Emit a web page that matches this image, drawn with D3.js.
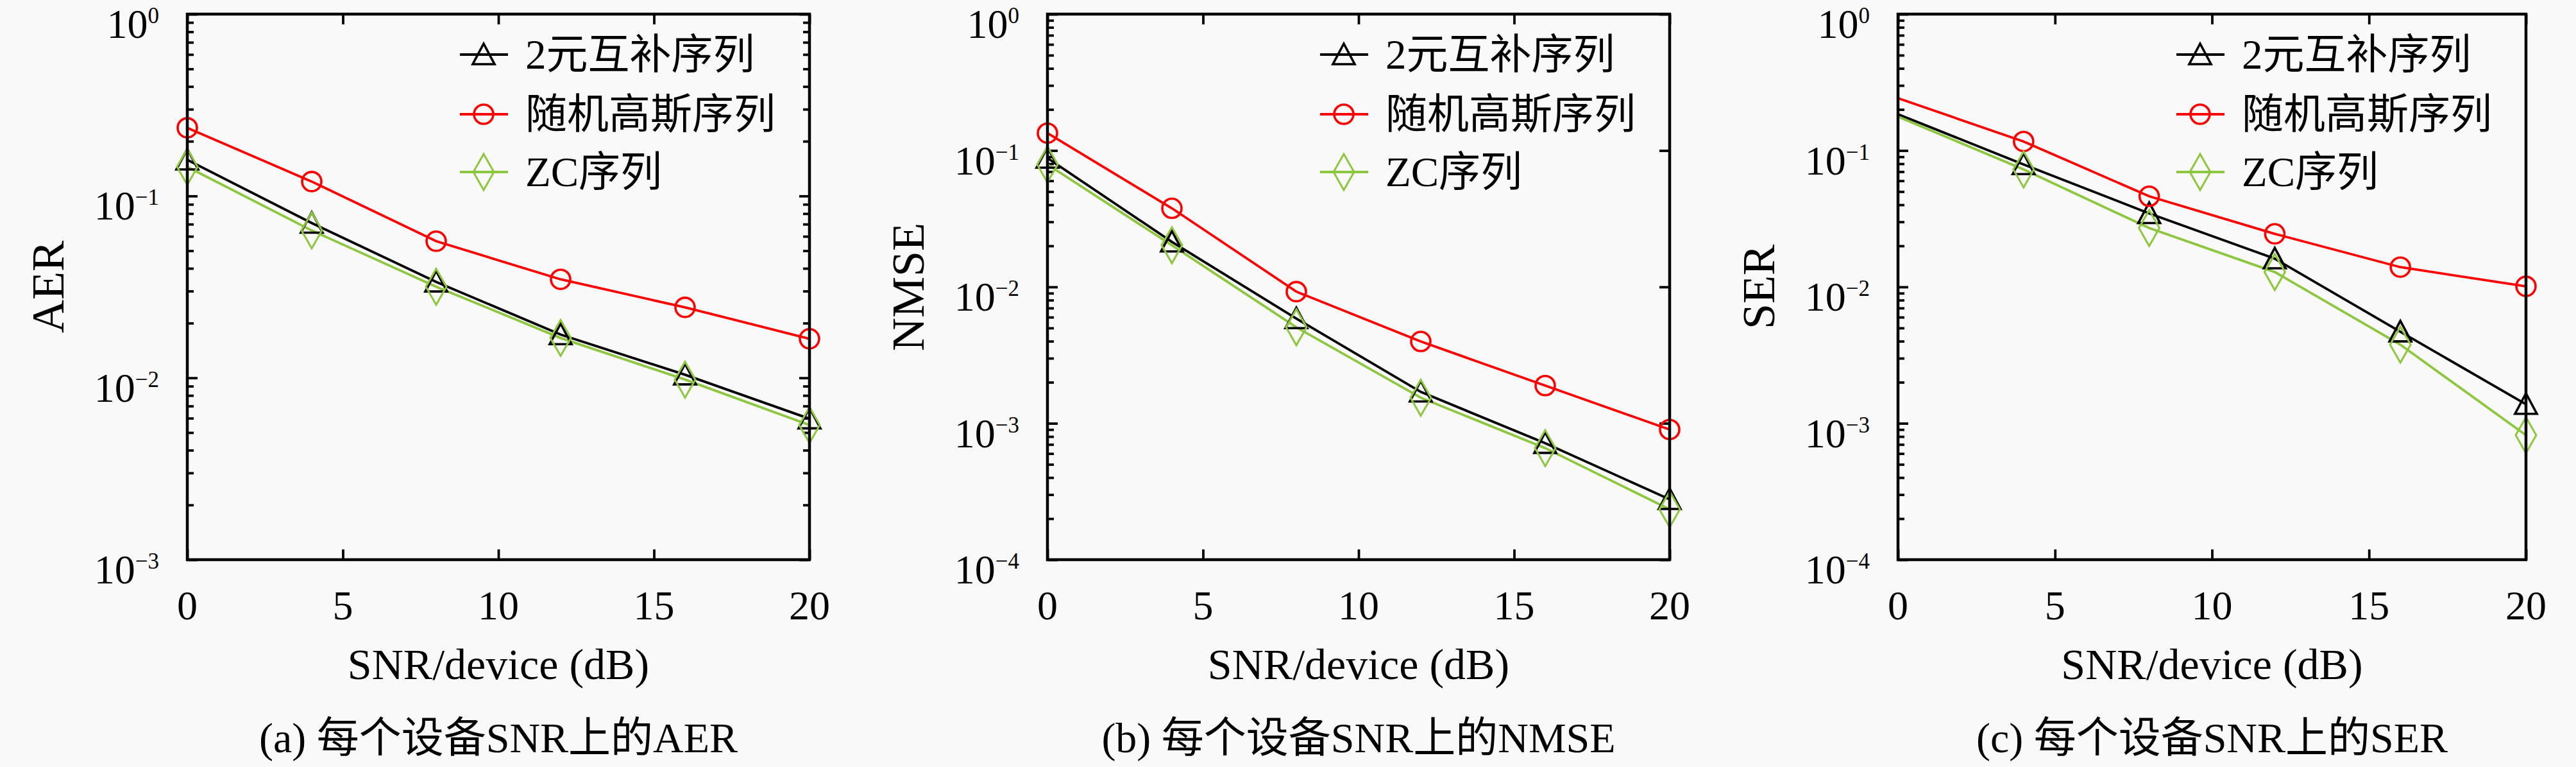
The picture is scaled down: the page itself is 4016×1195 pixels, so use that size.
<!DOCTYPE html>
<html>
<head>
<meta charset="utf-8">
<script src="https://cdn.jsdelivr.net/npm/d3@7"></script>
<style>
  body { margin: 0; background: #f9f9f9; }
  svg { display: block; }
  text { font-family: "Liberation Serif", "Noto Sans CJK SC", serif; fill: #000; }
</style>
</head>
<body>
<div id="graf"></div>
<script>
// I. Datos
snr = [0, 4, 8, 12, 16, 20]
xTicks = [0, 5, 10, 15, 20]
seriesNames = ['2元互补序列', '随机高斯序列', 'ZC序列']

aerBinary = [0.158, 0.071, 0.0337, 0.0173, 0.0104, 0.00596]
aerGauss  = [0.237, 0.120, 0.0564, 0.0348, 0.0244, 0.0164]
aerZC     = [0.1445, 0.0646, 0.0317, 0.01656, 0.00978, 0.0055]

nmseBinary = [0.088, 0.0214, 0.00586, 0.0017, 0.000714, 0.000277]
nmseGauss  = [0.134, 0.0377, 0.00923, 0.00398, 0.00189, 0.0009]
nmseZC     = [0.079, 0.0202, 0.00506, 0.00154, 0.000658, 0.000234]

serBinary = [0.1845, 0.079, 0.0346, 0.0161, 0.00469, 0.00138]
serGauss  = [0.242, 0.1164, 0.0462, 0.0245, 0.01396, 0.0101]
serZC     = [0.177, 0.0727, 0.027, 0.01285, 0.00377, 0.000818]

yLabels  = ['AER', 'NMSE', 'SER']
captions = ['(a) 每个设备SNR上的AER', '(b) 每个设备SNR上的NMSE', '(c) 每个设备SNR上的SER']
yMinExp  = [-3, -4, -4]

// II. Configuración
ancho_total = 4016
alto_total = 1195
yArriba = 22
yAbajo = 872

panels = [
  { left: 292,  right: 1262, data: [aerBinary, aerGauss, aerZC],    minorRight: true,  majorRight: true,  firstMarker: true },
  { left: 1633, right: 2603, data: [nmseBinary, nmseGauss, nmseZC], minorRight: false, majorRight: true,  firstMarker: true },
  { left: 2959, right: 3938, data: [serBinary, serGauss, serZC],    minorRight: false, majorRight: false, firstMarker: false }
]

colores = ['#000000', '#ff0000', '#8dc63f']
simbolos = ['triangle', 'circle', 'diamond']

svg = d3.select('#graf').append('svg')
        .attr('width', ancho_total)
        .attr('height', alto_total)

svg.append('rect').attr('width', ancho_total).attr('height', alto_total).attr('fill', '#f9f9f9')

function marcador(g, tipo, cx, cy, color) {
  if (tipo == 'circle') {
    g.append('circle').attr('cx', cx).attr('cy', cy).attr('r', 15)
     .attr('fill', 'none').attr('stroke', color).attr('stroke-width', 3.6)
  } else if (tipo == 'triangle') {
    g.append('path')
     .attr('d', `M${cx},${cy - 17}L${cx + 17},${cy + 15}L${cx - 17},${cy + 15}Z`)
     .attr('fill', 'none').attr('stroke', color).attr('stroke-width', 3.6)
  } else {
    g.append('path')
     .attr('d', `M${cx},${cy - 28}L${cx + 16},${cy}L${cx},${cy + 28}L${cx - 16},${cy}Z`)
     .attr('fill', 'none').attr('stroke', color).attr('stroke-width', 3)
  }
}

// III. Dibujo de cada panel
panels.forEach((p, i) => {
  const x = d3.scaleLinear().domain([0, 20]).range([p.left, p.right])
  const y = d3.scaleLog().domain([Math.pow(10, yMinExp[i]), 1]).range([yAbajo, yArriba])

  const g = svg.append('g')

  const majors = d3.range(yMinExp[i], 1).map(k => Math.pow(10, k))
  const minors = y.ticks().filter(v => Math.abs(Math.log10(v) - Math.round(Math.log10(v))) > 1e-6)

  // ticks hacia adentro
  const ejes = g.append('g').attr('class', 'ticks')
  ejes.append('g').attr('transform', `translate(0,${yAbajo})`)
      .call(d3.axisBottom(x).tickValues(xTicks).tickSizeInner(-16).tickSizeOuter(0).tickFormat(''))
  ejes.append('g').attr('transform', `translate(0,${yArriba})`)
      .call(d3.axisTop(x).tickValues(xTicks).tickSizeInner(-16).tickSizeOuter(0).tickFormat(''))
  ejes.append('g').attr('transform', `translate(${p.left},0)`)
      .call(d3.axisLeft(y).tickValues(majors).tickSizeInner(-16).tickSizeOuter(0).tickFormat(''))
  ejes.append('g').attr('transform', `translate(${p.left},0)`)
      .call(d3.axisLeft(y).tickValues(minors).tickSizeInner(-10).tickSizeOuter(0).tickFormat(''))
  if (p.majorRight) {
    ejes.append('g').attr('transform', `translate(${p.right},0)`)
        .call(d3.axisRight(y).tickValues(majors).tickSizeInner(-16).tickSizeOuter(0).tickFormat(''))
  }
  if (p.minorRight) {
    ejes.append('g').attr('transform', `translate(${p.right},0)`)
        .call(d3.axisRight(y).tickValues(minors).tickSizeInner(-10).tickSizeOuter(0).tickFormat(''))
  }
  ejes.selectAll('.domain').remove()
  ejes.selectAll('line').attr('stroke', '#000').attr('stroke-width', 3.8)

  // series
  const linea = d3.line().x((d, j) => x(snr[j])).y(d => y(d))
  p.data.forEach((serie, s) => {
    g.append('path').datum(serie)
     .attr('d', linea)
     .attr('fill', 'none')
     .attr('stroke', colores[s])
     .attr('stroke-width', 3.8)
  })
  p.data.forEach((serie, s) => {
    serie.forEach((v, j) => {
      if (j == 0 && !p.firstMarker) return
      marcador(g, simbolos[s], x(snr[j]), y(v), colores[s])
    })
  })

  // marco
  g.append('rect')
   .attr('x', p.left).attr('y', yArriba)
   .attr('width', p.right - p.left).attr('height', yAbajo - yArriba)
   .attr('fill', 'none').attr('stroke', '#000').attr('stroke-width', 4.5)

  // etiquetas eje x
  g.selectAll('.xl').data(xTicks).enter().append('text')
   .attr('x', d => x(d)).attr('y', 965)
   .attr('text-anchor', 'middle')
   .style('font-size', '64px')
   .text(d => d)

  // etiquetas eje y (10^k)
  majors.forEach(v => {
    const k = Math.round(Math.log10(v))
    const t = g.append('text')
         .attr('x', p.left - 44).attr('y', y(v) + 37)
         .attr('text-anchor', 'end')
         .style('font-size', '64px')
    t.append('tspan').text('10')
    t.append('tspan').attr('dy', -23).style('font-size', '35px')
     .text(k == 0 ? '0' : '\u2212' + (-k))
  })

  // títulos
  const cx = (p.left + p.right) / 2
  g.append('text').attr('x', cx).attr('y', 1058)
   .attr('text-anchor', 'middle').style('font-size', '68px')
   .text('SNR/device (dB)')
  g.append('text')
   .attr('transform', `translate(${p.left - 193},${(yArriba + yAbajo) / 2}) rotate(-90)`)
   .attr('text-anchor', 'middle').style('font-size', '72px')
   .text(yLabels[i])
  g.append('text').attr('x', cx).attr('y', 1172)
   .attr('text-anchor', 'middle').style('font-size', '66px')
   .text(captions[i])

  // leyenda
  const lx = p.right - 545
  seriesNames.forEach((n, s) => {
    const ly = [85, 178, 268][s]
    g.append('line').attr('x1', lx).attr('x2', lx + 75).attr('y1', ly).attr('y2', ly)
     .attr('stroke', colores[s]).attr('stroke-width', 3.8)
    marcador(g, simbolos[s], lx + 37, ly, colores[s])
    g.append('text').attr('x', lx + 102).attr('y', ly)
     .attr('dominant-baseline', 'central')
     .style('font-size', '65px')
     .text(n)
  })
})
</script>
</body>
</html>
